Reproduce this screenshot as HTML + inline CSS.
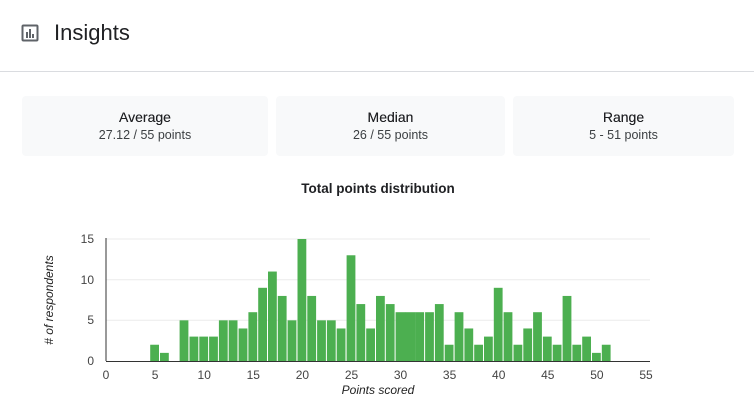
<!DOCTYPE html>
<html><head><meta charset="utf-8"><style>
body{margin:0;width:754px;height:418px;background:#fff;font-family:"Liberation Sans",Arial,sans-serif;position:relative;overflow:hidden}
.card{position:absolute;top:96px;height:60px;background:#f8f9fa;border-radius:4px;text-align:center;color:#202124}
.card b{display:block;font-weight:normal;font-size:14px;margin-top:13px;text-shadow:0 0 0.3px #202124}
.card span{display:block;font-size:12.5px;margin-top:3px;color:#3c4043}
</style></head><body>
<svg style="position:absolute;left:0;top:0" width="754" height="418">
<rect x="22.5" y="25.5" width="15" height="15" fill="none" stroke="#5f6368" stroke-width="2" rx="1"/>
<rect x="26" y="32" width="2" height="6" fill="#5f6368"/><rect x="29" y="29" width="2" height="9" fill="#5f6368"/><rect x="32" y="34" width="2" height="4" fill="#5f6368"/>
<text x="54" y="40" font-size="22" fill="#202124" font-family="Liberation Sans,sans-serif">Insights</text>
<line x1="0" y1="71.5" x2="754" y2="71.5" stroke="#dadce0"/>
<text x="378" y="193" font-size="13.5" font-weight="bold" fill="#202124" text-anchor="middle">Total points distribution</text>
<g stroke="#ebebeb"><line x1="106" x2="650" y1="320.3" y2="320.3"/><line x1="106" x2="650" y1="279.7" y2="279.7"/><line x1="106" x2="650" y1="239" y2="239"/></g>
<g transform="translate(0,361) scale(1,-8.133)" fill="#4caf50">
<rect x="150.2" y="0" width="8.8" height="2"/><rect x="160" y="0" width="8.8" height="1"/>
<rect x="179.6" y="0" width="8.8" height="5"/><rect x="189.5" y="0" width="8.8" height="3"/><rect x="199.3" y="0" width="8.8" height="3"/><rect x="209.1" y="0" width="8.8" height="3"/>
<rect x="218.9" y="0" width="8.8" height="5"/><rect x="228.7" y="0" width="8.8" height="5"/><rect x="238.6" y="0" width="8.8" height="4"/><rect x="248.4" y="0" width="8.8" height="6"/>
<rect x="258.2" y="0" width="8.8" height="9"/><rect x="268" y="0" width="8.8" height="11"/><rect x="277.8" y="0" width="8.8" height="8"/><rect x="287.6" y="0" width="8.8" height="5"/>
<rect x="297.5" y="0" width="8.8" height="15"/><rect x="307.3" y="0" width="8.8" height="8"/><rect x="317.1" y="0" width="8.8" height="5"/><rect x="326.9" y="0" width="8.8" height="5"/>
<rect x="336.7" y="0" width="8.8" height="4"/><rect x="346.6" y="0" width="8.8" height="13"/><rect x="356.4" y="0" width="8.8" height="7"/><rect x="366.2" y="0" width="8.8" height="4"/>
<rect x="376" y="0" width="8.8" height="8"/><rect x="385.8" y="0" width="8.8" height="7"/><rect x="395.6" y="0" width="10" height="6"/><rect x="405.4" y="0" width="10" height="6"/>
<rect x="415.3" y="0" width="8.8" height="6"/><rect x="425.1" y="0" width="8.8" height="6"/><rect x="434.9" y="0" width="8.8" height="7"/><rect x="444.7" y="0" width="8.8" height="2"/>
<rect x="454.6" y="0" width="8.8" height="6"/><rect x="464.4" y="0" width="8.8" height="4"/><rect x="474.2" y="0" width="8.8" height="2"/><rect x="484" y="0" width="8.8" height="3"/>
<rect x="493.8" y="0" width="8.8" height="9"/><rect x="503.6" y="0" width="8.8" height="6"/><rect x="513.5" y="0" width="8.8" height="2"/><rect x="523.3" y="0" width="8.8" height="4"/>
<rect x="533.1" y="0" width="8.8" height="6"/><rect x="542.9" y="0" width="8.8" height="3"/><rect x="552.7" y="0" width="8.8" height="2"/><rect x="562.6" y="0" width="8.8" height="8"/>
<rect x="572.4" y="0" width="8.8" height="2"/><rect x="582.2" y="0" width="8.8" height="3"/><rect x="592" y="0" width="8.8" height="1"/><rect x="601.8" y="0" width="8.8" height="2"/>
</g>
<line x1="106" y1="238" x2="106" y2="361" stroke="#333"/>
<line x1="106" y1="361.5" x2="650" y2="361.5" stroke="#333"/>
<g font-size="12" fill="#444" text-anchor="end"><text x="94" y="365">0</text><text x="94" y="324">5</text><text x="94" y="284">10</text><text x="94" y="243">15</text></g>
<g font-size="12" fill="#444" text-anchor="middle">
<text x="106" y="379">0</text><text x="155.1" y="379">5</text><text x="204.2" y="379">10</text><text x="253.3" y="379">15</text><text x="302.4" y="379">20</text><text x="351.5" y="379">25</text><text x="400.5" y="379">30</text><text x="449.6" y="379">35</text><text x="498.7" y="379">40</text><text x="547.8" y="379">45</text><text x="596.9" y="379">50</text><text x="646" y="379">55</text>
</g>
<text x="378" y="394" font-size="12" font-style="italic" fill="#222" text-anchor="middle">Points scored</text>
<text transform="translate(53,300) rotate(-90)" font-size="12" font-style="italic" fill="#222" text-anchor="middle"># of respondents</text>
</svg>
<div class="card" style="left:22px;width:246px"><b>Average</b><span>27.12 / 55 points</span></div>
<div class="card" style="left:276px;width:229px"><b>Median</b><span>26 / 55 points</span></div>
<div class="card" style="left:513px;width:221px"><b>Range</b><span>5 - 51 points</span></div>
</body></html>
